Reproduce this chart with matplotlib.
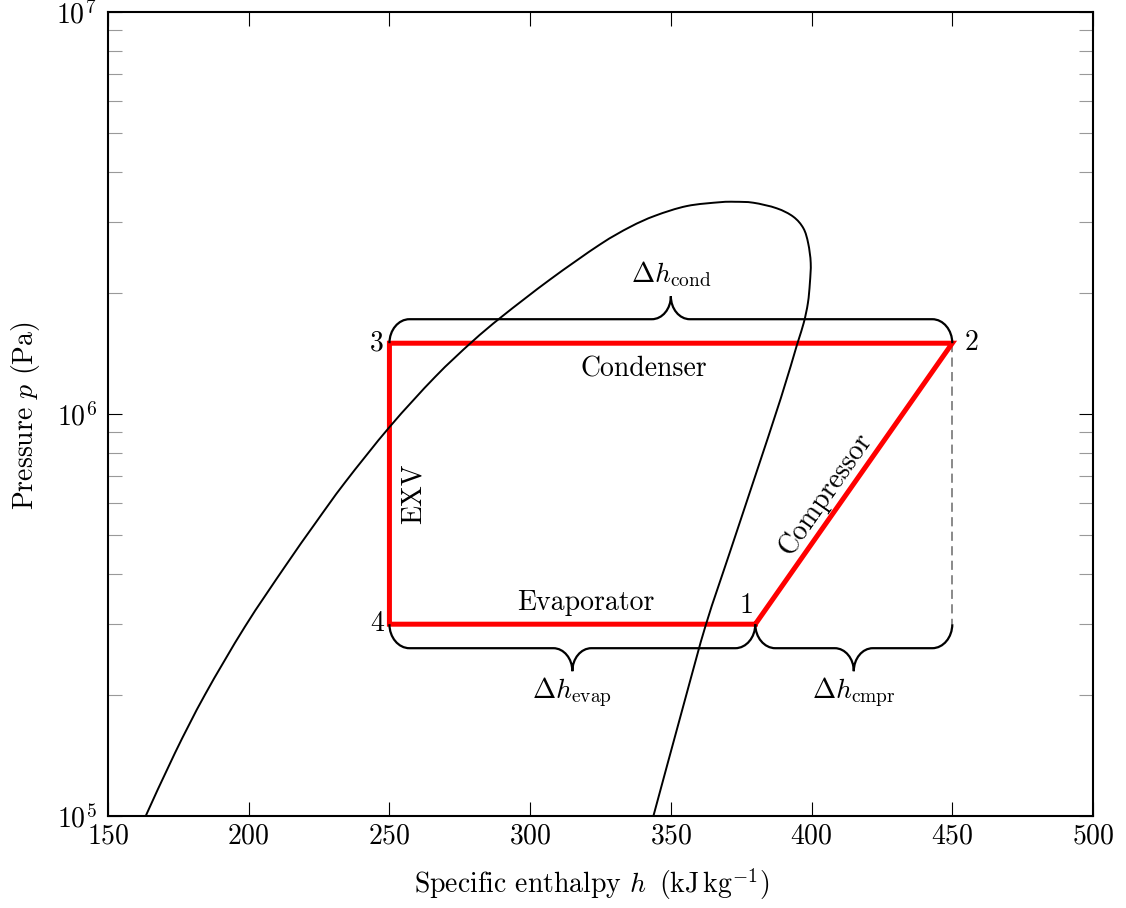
import numpy as np
import matplotlib
matplotlib.use('Agg')
import matplotlib.pyplot as plt
from matplotlib.path import Path
from matplotlib.patches import PathPatch
from matplotlib.transforms import IdentityTransform
from matplotlib.ticker import LogLocator, FixedLocator, FixedFormatter, NullFormatter

plt.rcParams['font.family'] = 'serif'
plt.rcParams['font.serif'] = ['cmr10']
plt.rcParams['mathtext.fontset'] = 'cm'
plt.rcParams['axes.formatter.use_mathtext'] = True
plt.rcParams['font.size'] = 20

# ---- data ----
# saturation dome (liquid branch -> critical region -> vapour branch)
dome_h = [163.4, 173.8, 184.5, 198.7, 212.9, 223.6, 234.2, 250.2, 266.2, 279.3,
          290.0, 307.1, 324.8, 335.5, 344.4, 355.7, 367.5, 372.8, 379.3, 387.6,
          393.5, 397.1, 398.8, 399.7, 399.4, 398.7, 397.2, 394.8, 389.1, 379.5,
          371.0, 362.5, 355.0, 343.8]
dome_p = [1.000e5, 1.435e5, 2.006e5, 2.961e5, 4.175e5, 5.341e5, 6.755e5, 9.31e5, 1.236e6, 1.511e6,
          1.748e6, 2.161e6, 2.640e6, 2.919e6, 3.113e6, 3.291e6, 3.364e6, 3.372e6, 3.354e6, 3.249e6,
          3.096e6, 2.897e6, 2.658e6, 2.375e6, 2.118e6, 1.889e6, 1.684e6, 1.485e6, 1.096e6, 6.85e5,
          4.537e5, 3.0e5, 1.944e5, 1.000e5]

# refrigeration cycle states 1..4 (closed back to 1)
cycle_h = [380, 450, 250, 250, 380]
cycle_p = [3.0e5, 1.5e6, 1.5e6, 3.0e5, 3.0e5]
state_labels = ['1', '2', '3', '4']

x_ticks = [150, 200, 250, 300, 350, 400, 450, 500]
y_ticks = [1e5, 1e6, 1e7]
y_ticklabels = [r'$10^{5}$', r'$10^{6}$', r'$10^{7}$']

# ---- figure ----
W, H = 1126, 908
fig = plt.figure(figsize=(W / 100, H / 100), dpi=100)
ax = fig.add_axes([108 / W, 92 / H, 985 / W, 804 / H])
ax.set_xlim(150, 500)
ax.set_yscale('log')
ax.set_ylim(1e5, 1e7)


def smooth_curve(xs, ys, **kw):
    """Draw a smooth (Catmull-Rom -> Bezier) curve through the data points."""
    P = ax.transData.transform(np.column_stack([xs, ys]))
    n = len(P)
    verts = [tuple(P[0])]
    codes = [Path.MOVETO]
    for i in range(n - 1):
        p0 = P[i - 1] if i > 0 else P[i]
        p1 = P[i]
        p2 = P[i + 1]
        p3 = P[i + 2] if i + 2 < n else P[i + 1]
        c1 = p1 + (p2 - p0) / 6.0
        c2 = p2 - (p3 - p1) / 6.0
        verts += [tuple(c1), tuple(c2), tuple(p2)]
        codes += [Path.CURVE4] * 3
    patch = PathPatch(Path(verts, codes), facecolor='none', transform=IdentityTransform(), **kw)
    patch.set_clip_path(ax.patch)
    fig.add_artist(patch)


smooth_curve(dome_h, dome_p, edgecolor='black', lw=1.4, zorder=2)
ax.plot(cycle_h, cycle_p, color='#ff0000', lw=3.6, solid_joinstyle='miter', zorder=3)
# dashed isenthalpic guide below state 2
ax.plot([cycle_h[1], cycle_h[1]], [cycle_p[1], cycle_p[0]], color='#6a6a6a', lw=1.1,
        dashes=(6, 3.5), zorder=1)

# ticks
ax.xaxis.set_major_locator(FixedLocator(x_ticks))
ax.yaxis.set_major_locator(FixedLocator(y_ticks))
ax.yaxis.set_major_formatter(FixedFormatter(y_ticklabels))
ax.yaxis.set_minor_locator(LogLocator(base=10, subs=np.arange(2, 10)))
ax.yaxis.set_minor_formatter(NullFormatter())
ax.tick_params(which='both', direction='in', top=True, right=True, length=10, width=0.8)
ax.tick_params(axis='x', which='major', pad=5)
ax.tick_params(axis='y', which='major', pad=8)
ax.tick_params(which='minor', color='#999999')
for s in ax.spines.values():
    s.set_linewidth(1.5)

ax.set_xlabel(r'Specific enthalpy $h\,$ (kJ$\,$kg$^{-1}$)')
ax.set_ylabel(r'Pressure $p$ (Pa)')
ax.xaxis.set_label_coords(0.491, -0.085)
ax.xaxis.label.set_va('center')
ax.yaxis.set_label_coords(-0.084, 0.498)
ax.yaxis.label.set_va('center')


# ---- braces (drawn in display space) ----
def brace(x0, x1, y, sign, bar=24, tip=47, rc=20, rt=19):
    X0, Y = ax.transData.transform((x0, y))
    X1, _ = ax.transData.transform((x1, y))
    Xm = 0.5 * (X0 + X1)
    yb = Y + sign * bar
    yt = Y + sign * tip
    k = 0.55
    verts = [
        (X0, Y),
        (X0, Y + sign * bar * k), (X0 + rc * (1 - k), yb), (X0 + rc, yb),
        (Xm - rt, yb),
        (Xm - rt * (1 - k), yb), (Xm, yb + sign * (tip - bar) * (1 - k)), (Xm, yt),
        (Xm, yb + sign * (tip - bar) * (1 - k)), (Xm + rt * (1 - k), yb), (Xm + rt, yb),
        (X1 - rc, yb),
        (X1 - rc * (1 - k), yb), (X1, Y + sign * bar * k), (X1, Y),
    ]
    codes = [Path.MOVETO,
             Path.CURVE4, Path.CURVE4, Path.CURVE4,
             Path.LINETO,
             Path.CURVE4, Path.CURVE4, Path.CURVE4,
             Path.CURVE4, Path.CURVE4, Path.CURVE4,
             Path.LINETO,
             Path.CURVE4, Path.CURVE4, Path.CURVE4]
    patch = PathPatch(Path(verts, codes), facecolor='none', edgecolor='black', lw=1.6,
                      transform=IdentityTransform(), zorder=4, capstyle='butt')
    fig.add_artist(patch)


h1, h2, h3, h4 = cycle_h[:4]
p1, p2, p3, p4 = cycle_p[:4]
brace(h3, h2, p2, +1)   # condenser
brace(h4, h1, p1, -1)   # evaporator
brace(h1, h2, p1, -1)   # compressor

# ---- annotations ----
def note(txt, xy, off, **kw):
    ax.annotate(txt, xy=xy, xytext=off, textcoords='offset points', **kw)

note(r'$\Delta h_{\mathrm{cond}}$', (0.5 * (h3 + h2), p2), (0, 44), ha='center', va='baseline')
note(r'$\Delta h_{\mathrm{evap}}$', (0.5 * (h4 + h1), p1), (0, -53.5), ha='center', va='baseline')
note(r'$\Delta h_{\mathrm{cmpr}}$', (0.5 * (h1 + h2), p1), (0, -53.5), ha='center', va='baseline')

note('Condenser', (0.5 * (h3 + h2), p2), (-19.8, -24), ha='center', va='baseline')
note('Evaporator', (0.5 * (h4 + h1), p1), (9.9, 10), ha='center', va='baseline')
p_mid = np.sqrt(p3 * p4)
note('EXV', (h3, p_mid), (17.3, -7.4), ha='center', va='center', rotation=90)
p_mid12 = np.sqrt(p1 * p2)
note('Compressor', (0.5 * (h1 + h2), p_mid12), (-20.5, -7.5), ha='center', va='center',
     rotation=55)

note(state_labels[0], (h1, p1), (-1, 8), ha='right', va='baseline')
note(state_labels[1], (h2, p2), (8.6, 0), ha='left', va='center')
note(state_labels[2], (h3, p3), (-4, 0), ha='right', va='center')
note(state_labels[3], (h4, p4), (-4, 0), ha='right', va='center')

fig.savefig('out.png', dpi=100)
